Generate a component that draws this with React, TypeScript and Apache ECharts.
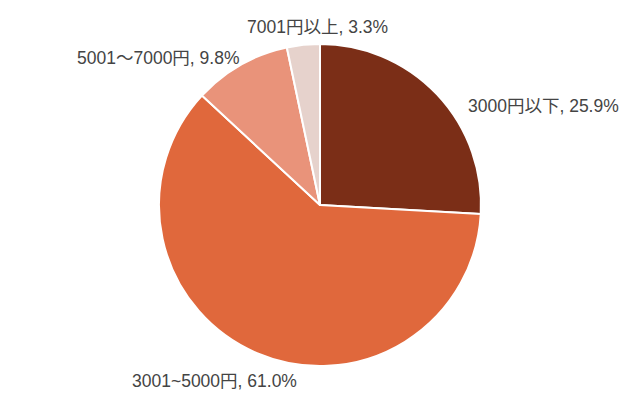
import React, { useEffect, useRef } from "react";
import * as echarts from "echarts";

const categories = ["3000円以下", "3001~5000円", "5001～7000円", "7001円以上"];
const values = [25.9, 61.0, 9.8, 3.3];
const colors = ["#7B2E17", "#E0683C", "#E9937A", "#E6D2CC"];
// label anchor positions (left edge x, middle y)
const labelX = [468, 132, 77, 247];
const labelY = [106, 381, 58, 27];

export default function App() {
  const ref = useRef<HTMLDivElement>(null);
  useEffect(() => {
    if (!ref.current) return;
    const chart = echarts.init(ref.current, null, { renderer: "svg" });
    chart.setOption({
      animation: false,
      backgroundColor: "#ffffff",
      series: [
        {
          type: "pie",
          center: [320, 205],
          radius: [0, 161],
          startAngle: 90,
          clockwise: true,
          data: categories.map((c, i) => ({
            name: c,
            value: values[i],
            itemStyle: { color: colors[i] },
          })),
          itemStyle: { borderColor: "#ffffff", borderWidth: 2 },
          label: {
            show: true,
            position: "outside",
            overflow: "none",
            edgeDistance: 0,
            formatter: (p: any) => `${p.name}, ${values[p.dataIndex].toFixed(1)}%`,
            fontFamily: "'Liberation Sans', Arial, 'Noto Sans CJK JP', sans-serif",
            fontSize: 17.5,
            color: "#444444",
          },
          labelLine: { show: false },
          labelLayout: (params: any) => ({
            x: labelX[params.dataIndex],
            y: labelY[params.dataIndex],
            align: "left",
            verticalAlign: "middle",
          }),
        },
      ],
    });
    return () => chart.dispose();
  }, []);
  return (
    <div
      ref={ref}
      style={{ position: "fixed", left: 0, top: 0, width: 640, height: 409 }}
    />
  );
}
